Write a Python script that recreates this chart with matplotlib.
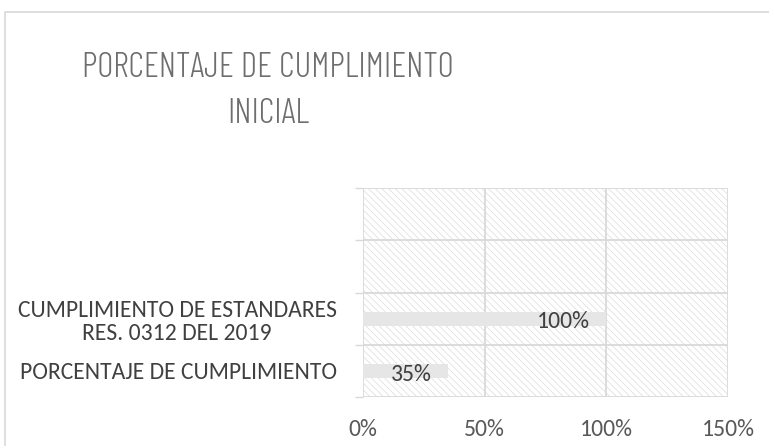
import matplotlib
matplotlib.use("Agg")
import matplotlib.pyplot as plt
from matplotlib.patches import Rectangle
from matplotlib import font_manager as fm

categories = ["PORCENTAJE DE CUMPLIMIENTO",
              "CUMPLIMIENTO DE ESTANDARES\nRES. 0312 DEL 2019", "", ""]
values = [35, 100, None, None]
xticks = [0, 50, 100, 150]
xtick_labels = ["0%", "50%", "100%", "150%"]
title = "PORCENTAJE DE CUMPLIMIENTO\nINICIAL"

FONT = ["Carlito", "DejaVu Sans"]
plt.rcParams["font.family"] = FONT
plt.rcParams["hatch.linewidth"] = 0.5
plt.rcParams["hatch.color"] = "#dcdcdc"

# choose a light condensed face for the title (reference title is tall and narrow)
light_upright = {f.name for f in fm.fontManager.ttflist
                 if f.weight == 300 and f.style == "normal"}
cands = ["Fira Sans Extra Condensed", "Roboto Condensed", "Barlow Condensed",
         "Fira Sans Condensed", "Encode Sans Condensed", "Asap Condensed",
         "IBM Plex Sans Condensed", "Saira ExtraCondensed", "Saira Condensed"]
avail = [c for c in cands if c in light_upright]

fig = plt.figure(figsize=(7.69, 4.46), dpi=100)
renderer = fig.canvas.get_renderer()

line1 = title.split("\n")[0]
best = None
for c in avail:
    t = fig.text(0, 0, line1, fontsize=25, family=[c], fontweight=300)
    w = t.get_window_extent(renderer).width
    t.remove()
    score = abs(w - 373)
    if best is None or score < best[0]:
        best = (score, c, w)
if best:
    TFONT = [best[1], "DejaVu Sans"]
    tsize = 25 * 373 / best[2]
else:
    TFONT = ["Carlito", "DejaVu Sans"]
    tsize = 19

fig.patches.append(Rectangle((5/769, -0.01), 1, 1.01 - 12/446, transform=fig.transFigure,
                             fill=False, edgecolor="#d9d9d9", lw=1.2))
ax = fig.add_axes([363/769, 1 - 397/446, 365/769, 209/446])
ax.set_xlim(0, 150)
ax.set_ylim(-0.5, 3.5)
ax.add_patch(Rectangle((0, -0.5), 150, 4, facecolor="white", edgecolor="#dcdcdc",
                       lw=0, hatch="\\\\\\\\\\", zorder=0))

for i, v in enumerate(values):
    if v is None:
        continue
    ax.barh(i, v, height=0.27, color="#e7e6e6", zorder=2)
    if v >= 100:
        ax.text(v - 6.6, i - 0.06, f"{v}%", ha="right", va="center",
                fontsize=17, color="#404040", zorder=3)
    else:
        ax.text(20, i - 0.06, f"{v}%", ha="center", va="center",
                fontsize=17, color="#404040", zorder=3)

ax.set_xticks(xticks)
ax.set_xticklabels(xtick_labels, fontsize=17, color="#595959")
ax.tick_params(axis="x", length=0, pad=16)
ax.set_yticks([-0.5, 0.5, 1.5, 2.5, 3.5])
ax.set_yticklabels([])
ax.tick_params(axis="y", which="major", length=6, color="#d9d9d9", width=1)
ax.set_yticks(range(len(categories)), minor=True)
ax.set_yticklabels(categories, minor=True, fontsize=17,
                   color="#404040", multialignment="center", linespacing=1.15)
ax.tick_params(axis="y", which="minor", length=0, pad=19)
ax.grid(True, which="major", color="#d9d9d9", lw=1.3, zorder=1)
for s in ax.spines.values():
    s.set_visible(False)
ax.set_axisbelow(True)

fig.text(268/769, 1 - 91/446, title, ha="center", va="center", fontsize=tsize,
         color="#6e6e6e", linespacing=1.55, family=TFONT, fontweight=300)

fig.savefig("out.png", dpi=100)
